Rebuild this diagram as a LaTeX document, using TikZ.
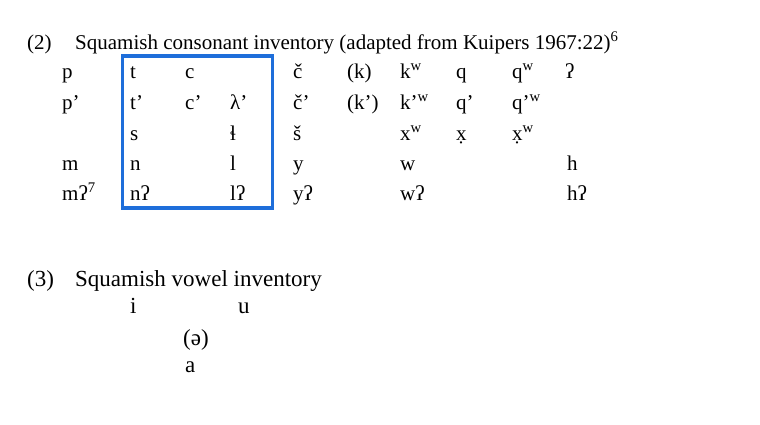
\documentclass[tikz,border=0pt]{standalone}
\usepackage{fontspec}
\setmainfont{Liberation Serif}
\usepackage{tikz}
\definecolor{boxblue}{RGB}{30,110,218}
\newcommand{\sw}{\textsuperscript{w}}

\begin{document}
\begin{tikzpicture}
[x=1pt,y=-1pt]
\tikzset{ph/.style={anchor=base west,inner sep=0pt,font=\fontsize{21}{25}\selectfont}}
\tikzset{vph/.style={ph,font=\fontsize{23}{27}\selectfont}}
\tikzset{frame/.style={draw=boxblue,line width=3.5pt}}
\useasboundingbox (0,0) rectangle (760,424);

% (2) consonants
\node [ph] (ex2) at (27,49) {(2)};
\node [ph] (t2) at (75,49) {Squamish consonant inventory (adapted from Kuipers 1967:22)\textsuperscript{6}};

\foreach \x/\t/\n in {62/p/a1,130/t/b1,185/c/c1,293/č/e1,347/(k)/f1,400/k\sw/g1,456/q/h1,512/q\sw/i1,565/ʔ/j1}
	\node [ph] (\n) at (\x,78) {\t};
\foreach \x/\t/\n in {62/p’/a2,130/t’/b2,185/c’/c2,230/λ’/d2,293/č’/e2,347/(k’)/f2,400/k’\sw/g2,456/q’/h2,512/q’\sw/i2}
	\node [ph] (\n) at (\x,109) {\t};
\foreach \x/\t/\n in {130/s/b3,230/ɬ/d3,293/š/e3,400/x\sw/g3,456/x̣/h3,512/x̣\sw/i3}
	\node [ph] (\n) at (\x,140) {\t};
\foreach \x/\t/\n in {62/m/a4,130/n/b4,230/l/d4,293/y/e4,400/w/g4,567/h/j4}
	\node [ph] (\n) at (\x,170) {\t};
\foreach \x/\t/\n in {62/mʔ\textsuperscript{7}/a5,130/nʔ/b5,230/lʔ/d5,293/yʔ/e5,400/wʔ/g5,567/hʔ/j5}
	\node [ph] (\n) at (\x,200) {\t};

\coordinate (bx1) at (122.5,56);
\coordinate (bx2) at (272.5,208);
\draw [frame] (bx1) rectangle (bx2);

% (3) vowels
\node [vph] (ex3) at (27,286) {(3)};
\node [vph] (t3) at (75,286) {Squamish vowel inventory};
\node [vph] (vi) at (130,313) {i};
\node [vph] (vu) at (238,313) {u};
\node [vph] (vschwa) at (183,345) {(ə)};
\node [vph] (va) at (185,372) {a};

\end{tikzpicture}
\end{document}
